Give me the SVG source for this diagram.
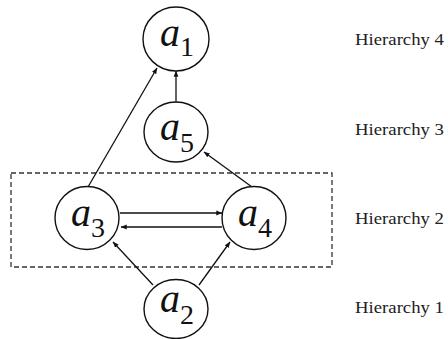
<svg xmlns="http://www.w3.org/2000/svg" width="448" height="339" viewBox="0 0 448 339">
  <style>
    .node { fill: #fff; stroke: #111; stroke-width: 1.4; }
    .lbl { fill: #111; }
    .main { font-style: italic; font-size: 40px; }
    .sub { font-size: 28px; }
    .edge { stroke: #111; stroke-width: 1.3; fill: none; marker-end: url(#arr); }
    .hier { font-size: 17px; fill: #222; }
    .group { fill: none; stroke: #333; stroke-width: 1.3; stroke-dasharray: 5 3; }
  </style>
  <defs>
    <marker id="arr" viewBox="0 0 10 10" refX="9.5" refY="5" markerWidth="6" markerHeight="6" markerUnits="userSpaceOnUse" orient="auto">
      <path d="M0,1 L10,5 L0,9 Z" fill="#111"/>
    </marker>
  </defs>

  <rect id="hierarchy2-box" class="group" x="11" y="173" width="321" height="94"/>

  <g id="connectors">
    <line class="edge" x1="176" y1="102" x2="176" y2="71"/>
    <line class="edge" x1="88" y1="187" x2="157" y2="68"/>
    <line class="edge" x1="252" y1="187" x2="204" y2="152"/>
    <line class="edge" x1="120" y1="213" x2="222" y2="213"/>
    <line class="edge" x1="222" y1="227" x2="121" y2="227"/>
    <line class="edge" x1="153" y1="285" x2="113" y2="242"/>
    <line class="edge" x1="199" y1="285" x2="230" y2="242"/>
  </g>

  <g font-family="Liberation Serif">
    <g id="a1">
      <ellipse class="node" cx="176" cy="39" rx="33" ry="32"/>
      <text class="lbl" x="160" y="46"><tspan class="main">a</tspan><tspan class="sub" dy="10">1</tspan></text>
    </g>
    <g id="a5">
      <ellipse class="node" cx="176" cy="132" rx="32" ry="30"/>
      <text class="lbl" x="160" y="140"><tspan class="main">a</tspan><tspan class="sub" dy="12">5</tspan></text>
    </g>
    <g id="a3">
      <ellipse class="node" cx="87" cy="218" rx="32" ry="31.5"/>
      <text class="lbl" x="71" y="226"><tspan class="main">a</tspan><tspan class="sub" dy="11">3</tspan></text>
    </g>
    <g id="a4">
      <ellipse class="node" cx="254" cy="218" rx="32" ry="31.5"/>
      <text class="lbl" x="238" y="226"><tspan class="main">a</tspan><tspan class="sub" dy="11">4</tspan></text>
    </g>
    <g id="a2">
      <ellipse class="node" cx="176" cy="309" rx="32" ry="29.5"/>
      <text class="lbl" x="160" y="312"><tspan class="main">a</tspan><tspan class="sub" dy="12">2</tspan></text>
    </g>

    <g id="labels">
      <text class="hier" x="355" y="45" textLength="89" lengthAdjust="spacingAndGlyphs">Hierarchy 4</text>
      <text class="hier" x="355" y="135" textLength="89" lengthAdjust="spacingAndGlyphs">Hierarchy 3</text>
      <text class="hier" x="355" y="224" textLength="89" lengthAdjust="spacingAndGlyphs">Hierarchy 2</text>
      <text class="hier" x="355" y="313" textLength="89" lengthAdjust="spacingAndGlyphs">Hierarchy 1</text>
    </g>
  </g>
</svg>
